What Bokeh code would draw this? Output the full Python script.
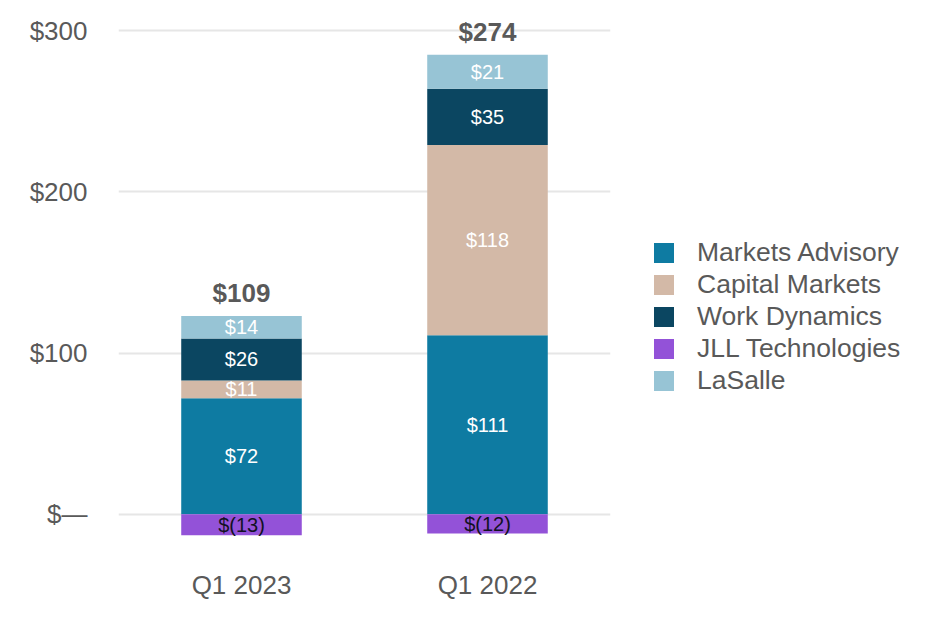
from bokeh.plotting import figure
from bokeh.models import ColumnDataSource, FixedTicker, Legend, LegendItem, FactorRange, Range1d
from bokeh.core.properties import value
from bokeh.embed import file_html
from bokeh.resources import INLINE

quarters = ["Q1 2023", "Q1 2022"]
markets_advisory = [72, 111]
capital_markets = [11, 118]
work_dynamics = [26, 35]
jll_technologies = [-13, -12]
lasalle = [14, 21]
totals = [109, 274]

y_ticks = [0, 100, 200, 300]
y_tick_labels = ["$\u2014", "$100", "$200", "$300"]

series_names = ["Markets Advisory", "Capital Markets", "Work Dynamics", "LaSalle"]
series_vals = [markets_advisory, capital_markets, work_dynamics, lasalle]
colors = {"Markets Advisory": "#0E7BA2", "Capital Markets": "#D3B9A7",
          "Work Dynamics": "#0B4661", "JLL Technologies": "#9352D8", "LaSalle": "#97C4D5"}

FONT = "Liberation Sans"
GREY = "#595959"

p = figure(x_range=FactorRange(*quarters), y_range=Range1d(-20, 310),
           frame_width=492, frame_height=532, output_backend="svg", toolbar_location=None,
           min_border_left=118, min_border_top=14, min_border_bottom=70, min_border_right=10)
p.outline_line_color = None
p.background_fill_color = "white"

data = {"q": quarters}
for n, v in zip(series_names, series_vals):
    data[n] = v
data["JLL Technologies"] = jll_technologies
src = ColumnDataSource(data)

rends = p.vbar_stack(series_names, x="q", width=0.49, source=src,
                     color=[colors[n] for n in series_names], line_color=None)
neg = p.vbar(x="q", top="JLL Technologies", bottom=0, width=0.49, source=src,
             color=colors["JLL Technologies"], line_color=None)

# segment labels
lx, ly, lt = [], [], []
for i, q in enumerate(quarters):
    base = 0
    for v in series_vals:
        lx.append(q); ly.append(base + v[i] / 2); lt.append("$%d" % v[i])
        base += v[i]
p.text(x=lx, y=ly, text=lt, text_color="white", text_align="center", text_baseline="middle",
       text_font=value(FONT), text_font_size="20px")

nx, ny, nt = [], [], []
for i, q in enumerate(quarters):
    nx.append(q); ny.append(jll_technologies[i] / 2); nt.append("$(%d)" % abs(jll_technologies[i]))
p.text(x=nx, y=ny, text=nt, text_color="#111122", text_align="center", text_baseline="middle",
       text_font=value(FONT), text_font_size="20px")

# totals
tx, ty, tt = [], [], []
for i, q in enumerate(quarters):
    top = sum(v[i] for v in series_vals)
    tx.append(q); ty.append(top); tt.append("$%d" % totals[i])
p.text(x=tx, y=ty, text=tt, text_color=GREY, text_align="center", text_baseline="bottom",
       y_offset=-8, text_font=value(FONT), text_font_size="26px", text_font_style="bold")

# axes
p.yaxis.ticker = FixedTicker(ticks=y_ticks)
p.yaxis.major_label_overrides = dict(zip(y_ticks, y_tick_labels))
p.yaxis.axis_line_color = None
p.yaxis.major_tick_line_color = None
p.yaxis.minor_tick_line_color = None
p.yaxis.major_label_standoff = 25
p.yaxis.major_label_text_font = FONT
p.yaxis.major_label_text_font_size = "26px"
p.yaxis.major_label_text_color = GREY

p.xaxis.axis_line_color = None
p.xaxis.major_tick_line_color = None
p.xaxis.major_label_standoff = 17
p.xaxis.major_label_text_font = FONT
p.xaxis.major_label_text_font_size = "26px"
p.xaxis.major_label_text_color = GREY

p.xgrid.grid_line_color = None
p.ygrid.grid_line_color = "#E6E6E6"
p.ygrid.grid_line_width = 2

r_by_name = dict(zip(series_names, rends))
r_by_name["JLL Technologies"] = neg
order = ["Markets Advisory", "Capital Markets", "Work Dynamics", "JLL Technologies", "LaSalle"]
legend = Legend(items=[LegendItem(label=n, renderers=[r_by_name[n]]) for n in order],
                location=(41, 150), margin=0, padding=0, spacing=1, label_height=25,
                glyph_width=25, glyph_height=25, label_standoff=21,
                label_text_font=FONT, label_text_font_size="26.5px", label_text_color=GREY,
                border_line_color=None, background_fill_alpha=0)
p.add_layout(legend, "right")

open("out.html", "w").write(file_html(p, INLINE))
